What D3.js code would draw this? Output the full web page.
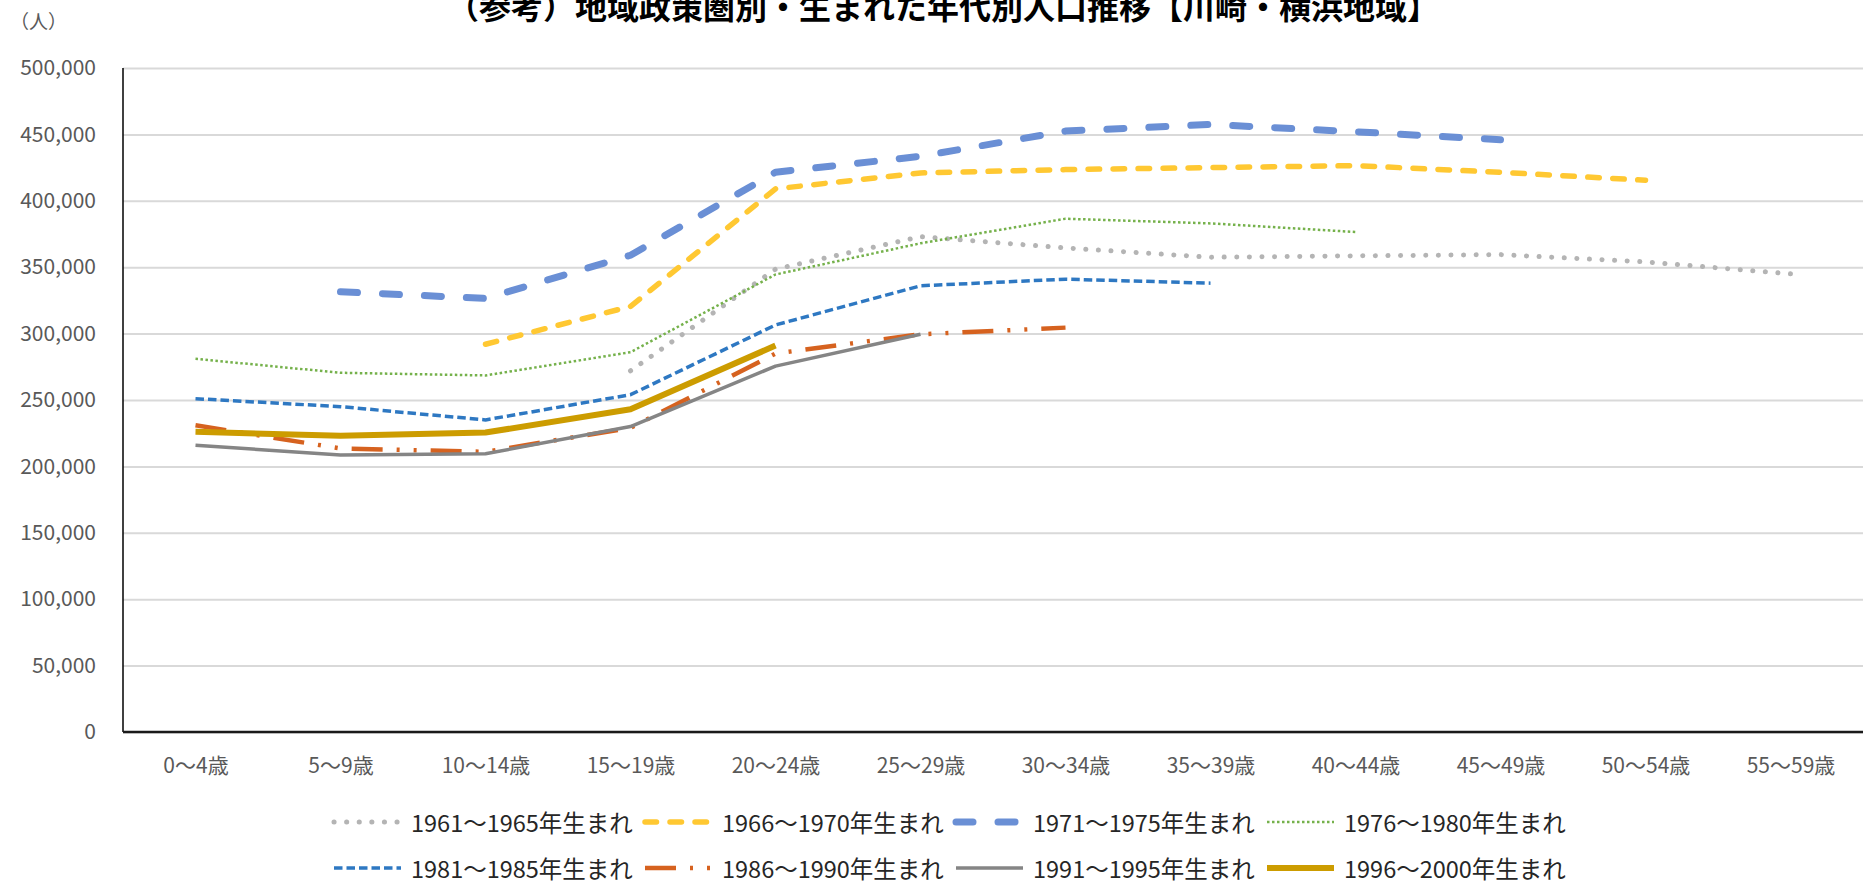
<!DOCTYPE html>
<html>
<head>
<meta charset="utf-8">
<script src="https://cdn.jsdelivr.net/npm/d3@7"></script>
<style>
  body { margin: 0; background: #fff; }
  svg { display: block; font-family: "Noto Sans CJK JP", "Noto Sans", sans-serif; }
</style>
</head>
<body>
<svg id="chart" width="1873" height="886"></svg>
<script>
const categories = ['0～4歳', '5～9歳', '10～14歳', '15～19歳', '20～24歳', '25～29歳',
                    '30～34歳', '35～39歳', '40～44歳', '45～49歳', '50～54歳', '55～59歳'];

const seriesNames = ['1961～1965年生まれ', '1966～1970年生まれ', '1971～1975年生まれ', '1976～1980年生まれ',
                     '1981～1985年生まれ', '1986～1990年生まれ', '1991～1995年生まれ', '1996～2000年生まれ'];

const s1961 = [null, null, null, 272000, 348500, 373000, 364500, 357500, 358500, 359500, 354000, 345000];
const s1966 = [null, null, 292000, 320500, 409000, 421000, 423500, 425000, 426500, 421500, 415500, null];
const s1971 = [null, 331500, 326500, 359000, 421500, 433500, 452500, 457500, 452000, 446000, null, null];
const s1976 = [281000, 270500, 268500, 286000, 344500, 368000, 386500, 383000, 376500, null, null, null];
const s1981 = [251000, 245000, 235000, 254000, 306500, 336000, 341000, 338000, null, null, null, null];
const s1986 = [231000, 213500, 211000, 229000, 285000, 299500, 304500, null, null, null, null, null];
const s1991 = [216000, 208500, 209500, 230000, 275500, 299500, null, null, null, null, null, null];
const s1996 = [226000, 223000, 225500, 243000, 291000, null, null, null, null, null, null, null];

const yTicks = [0, 50000, 100000, 150000, 200000, 250000, 300000, 350000, 400000, 450000, 500000];

const allSeries = [s1961, s1966, s1971, s1976, s1981, s1986, s1991, s1996];

// line styles, same order as the series
const styles = [
  { color: '#b4b4b4', width: 5,   dash: '0.1,12.5', cap: 'round' },
  { color: '#ffc832', width: 5.5, dash: '11.5,13.5', cap: 'round' },
  { color: '#6a8fd5', width: 7,   dash: '17,25',    cap: 'round' },
  { color: '#75b14b', width: 2.5, dash: '2.5,2.5',  cap: 'butt' },
  { color: '#2e78c2', width: 3.5, dash: '8.5,4',    cap: 'butt' },
  { color: '#d6621f', width: 4.5, dash: '31,14,3,14,3,14', cap: 'butt' },
  { color: '#858585', width: 3.5, dash: null,       cap: 'butt' },
  { color: '#cc9c00', width: 6,   dash: null,       cap: 'butt' },
];

const svg = d3.select('#chart');
const margin = { top: 68, right: 10, bottom: 154, left: 123 };
const width = 1873 - margin.left - margin.right,
      height = 886 - margin.top - margin.bottom;

const g = svg.append('g').attr('transform', `translate(${margin.left},${margin.top})`);

const x = d3.scalePoint().domain(categories).range([0, width]).padding(0.5);
const y = d3.scaleLinear().domain([0, 500000]).range([height, 0]);

// y axis with gridlines
const yAxis = g.append('g')
  .call(d3.axisLeft(y).tickValues(yTicks).tickFormat(d3.format(',')).tickSizeInner(-width).tickSizeOuter(0).tickPadding(27))
  .attr('font-family', null);
yAxis.select('.domain').remove();
yAxis.selectAll('.tick line').attr('stroke', '#d9d9d9').attr('stroke-width', 2);
yAxis.selectAll('.tick text').attr('fill', '#595959').style('font-size', '21px');

// x axis labels
const xAxis = g.append('g')
  .attr('transform', `translate(0,${height})`)
  .call(d3.axisBottom(x).tickSize(0).tickPadding(26))
  .attr('font-family', null);
xAxis.select('.domain').remove();
xAxis.selectAll('.tick text').attr('fill', '#595959').style('font-size', '21px');

// axis lines
g.append('line').attr('x1', 0).attr('x2', 0).attr('y1', 0).attr('y2', height)
  .attr('stroke', '#000').attr('stroke-width', 1.5);
g.append('line').attr('x1', 0).attr('x2', width).attr('y1', height).attr('y2', height)
  .attr('stroke', '#1a1a1a').attr('stroke-width', 2.5);

// lines
const line = d3.line()
  .defined(d => d != null)
  .x((d, i) => x(categories[i]))
  .y(d => y(d));

allSeries.forEach((s, i) => {
  const st = styles[i];
  g.append('path')
    .datum(s)
    .attr('fill', 'none')
    .attr('stroke', st.color)
    .attr('stroke-width', st.width)
    .attr('stroke-linecap', st.cap)
    .attr('stroke-linejoin', 'round')
    .attr('stroke-dasharray', st.dash)
    .attr('d', line);
});

// title (sits at the very top edge, as in the source)
svg.append('text')
  .attr('x', 943).attr('y', 19)
  .attr('text-anchor', 'middle')
  .attr('fill', '#000')
  .style('font-size', '32px')
  .style('font-weight', 'bold')
  .text('（参考）地域政策圏別・生まれた年代別人口推移【川崎・横浜地域】');

// unit label
svg.append('text')
  .attr('x', 10).attr('y', 29)
  .attr('fill', '#595959')
  .style('font-size', '19px')
  .text('（人）');

// legend
const legend = svg.append('g');
seriesNames.forEach((name, i) => {
  const col = i % 4, row = Math.floor(i / 4);
  const lx = 334 + col * 311, ly = 822 + row * 46;
  const st = styles[i];
  legend.append('line')
    .attr('x1', lx).attr('x2', lx + 67).attr('y1', ly).attr('y2', ly)
    .attr('stroke', st.color)
    .attr('stroke-width', st.width)
    .attr('stroke-linecap', st.cap)
    .attr('stroke-dasharray', st.dash);
  legend.append('text')
    .attr('x', lx + 77).attr('y', ly)
    .attr('dominant-baseline', 'central')
    .attr('fill', '#262626')
    .style('font-size', '23.5px')
    .text(name);
});
</script>
</body>
</html>
